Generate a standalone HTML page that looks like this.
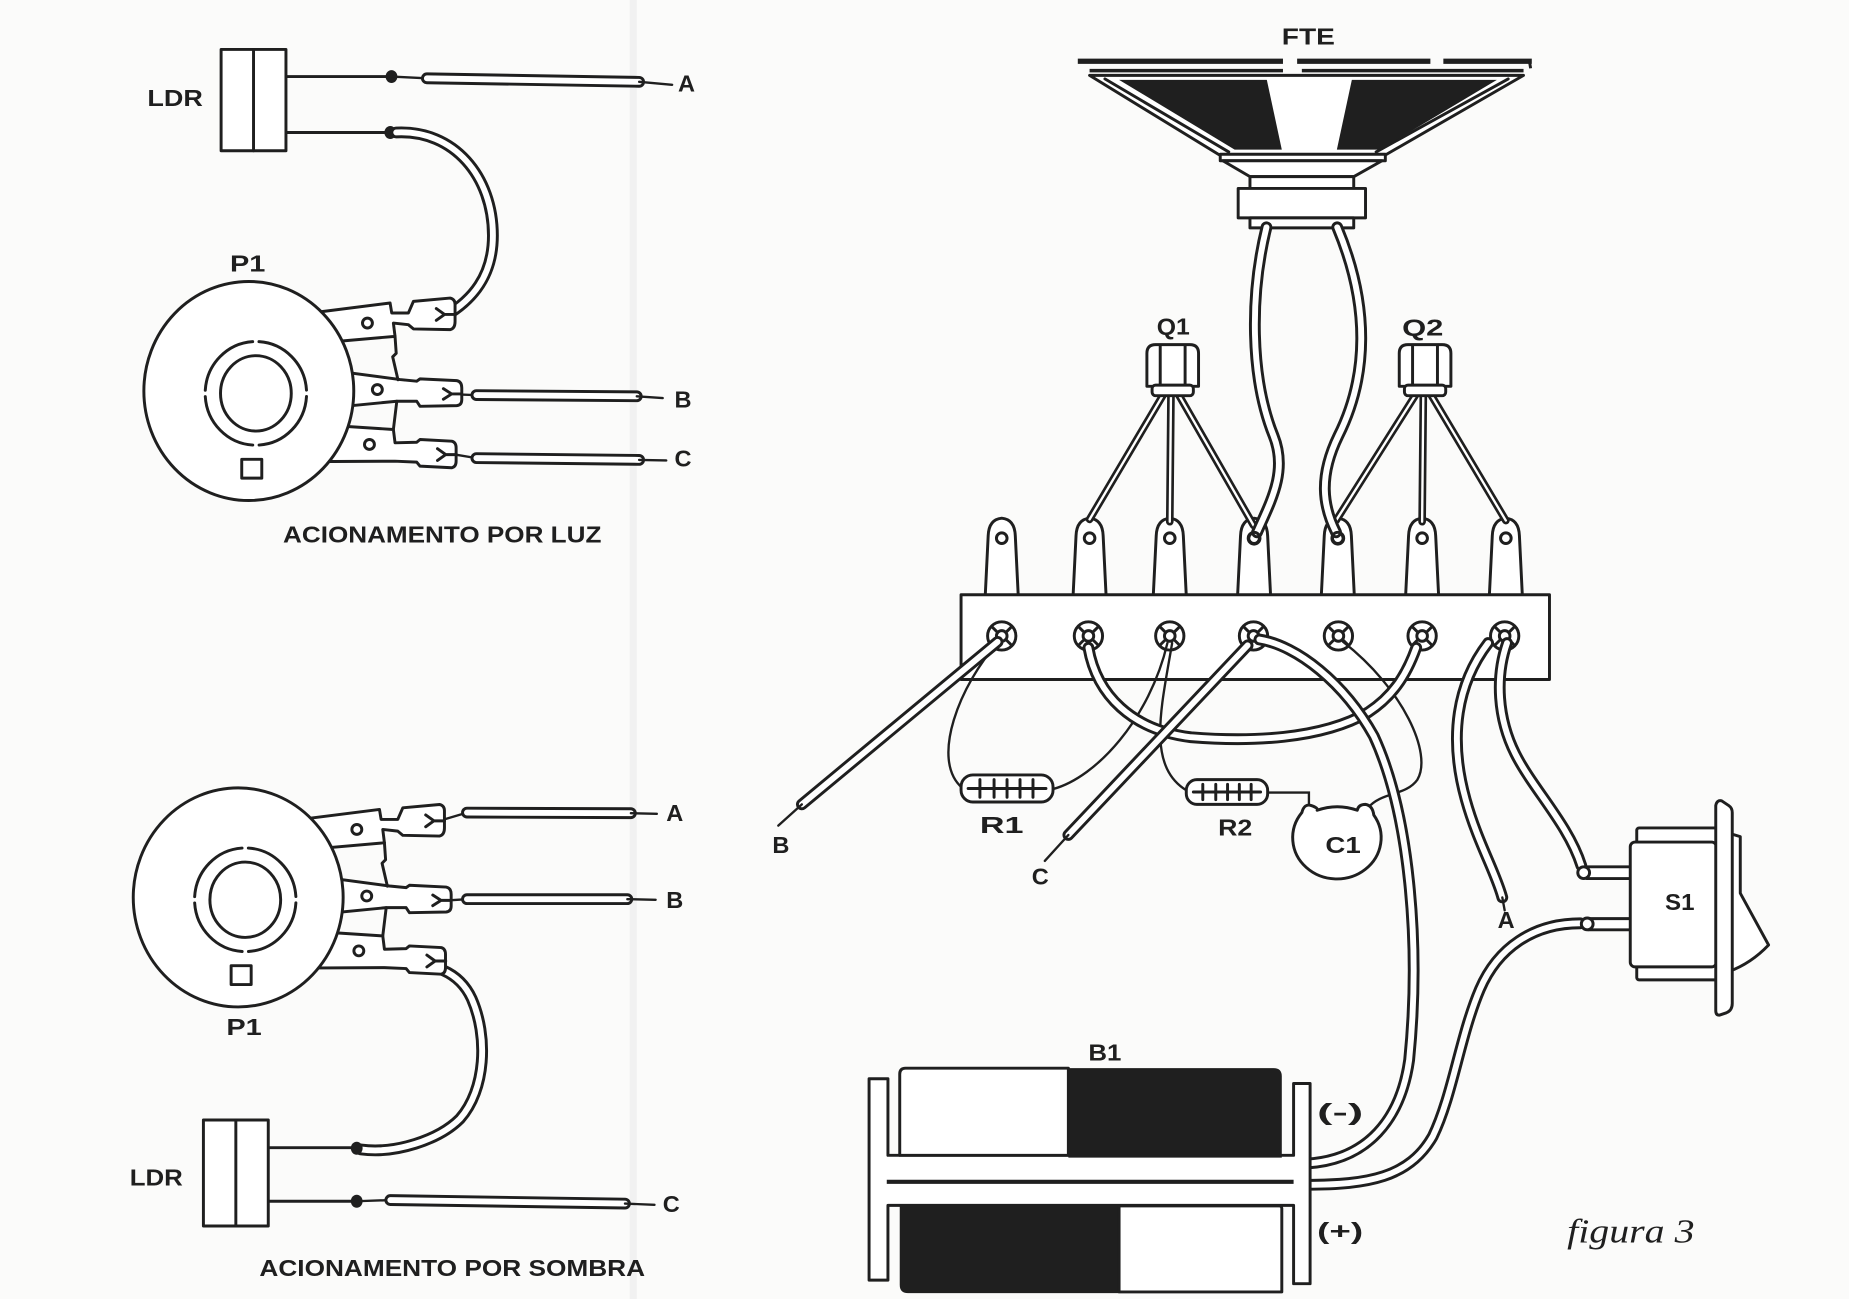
<!DOCTYPE html>
<html><head><meta charset="utf-8"><style>
html,body{margin:0;padding:0;background:#fbfbfa;}
svg{display:block}
.s{fill:none;stroke:#1f1f1f;stroke-width:2.5;stroke-linejoin:round;stroke-linecap:round}
.w{fill:#fff;stroke:#1f1f1f;stroke-width:2.5;stroke-linejoin:round}
.t{fill:none;stroke:#1f1f1f;stroke-width:2;stroke-linecap:round}
.to{fill:none;stroke:#1f1f1f;stroke-width:10;stroke-linecap:round;stroke-linejoin:round}
.ti{fill:none;stroke:#fff;stroke-width:5;stroke-linecap:round;stroke-linejoin:round}
.lo{fill:none;stroke:#1f1f1f;stroke-width:6.5;stroke-linecap:round}
.li{fill:none;stroke:#fff;stroke-width:2;stroke-linecap:round}
.k{fill:#1f1f1f}
text{font-family:"Liberation Sans",sans-serif;font-weight:bold;fill:#1f1f1f;font-size:20px}
.fig{font-family:"Liberation Serif",serif;font-style:italic;font-weight:normal;font-size:29px}
</style></head><body>
<svg width="1849" height="1299" viewBox="0 0 1568 1103" preserveAspectRatio="none" xmlns="http://www.w3.org/2000/svg">
<defs>
<g id="pot">
 <path class="w" d="M262 266 L330.8 257.3 L332.2 265.8 L346.3 265.8 L350.6 255.9 L381.7 253.1 Q386 254 385.9 258.7 L385.9 272.8 Q386 279 381.7 279.9 L350.6 279.3 L346.3 275.7 L333.6 274.3 L335 285.6 L262 292 Z"/>
 <path class="w" d="M262 312 L339.3 322.3 L353.4 323.7 L356.2 321.7 L387.3 323.2 Q391.6 324 391.6 329.4 L391.6 339.3 Q391.6 344 387.3 344.4 L356.2 345 L353.4 340.7 L336.5 340.7 L262 348 Z"/>
 <path class="w" d="M262 360 L333.6 364.7 L335 376 L353.4 375.5 L356.2 373.2 L383.1 374.6 Q386.8 375.5 386.8 380.3 L386.8 391.6 Q386.8 396.5 383.1 397.2 L356.2 395.8 L353.4 392.4 L335 391.6 L262 392 Z"/>
 <path class="s" d="M335 285.6 L336 300 L333 303 L337.5 322.5 M336.5 340.7 L333.6 364.7"/>
 <path class="s" d="M370 262 L377 267 L370 272 M377 267 L386 267"/>
 <path class="s" d="M376 330 L383 334.5 L376 339 M383 334.5 L391 334.5"/>
 <path class="s" d="M371 381 L378 386 L371 391 M378 386 L387 386"/>
 <ellipse class="w" cx="211" cy="332" rx="89" ry="93"/>
 <ellipse class="s" cx="217" cy="334" rx="43" ry="44" pathLength="100" stroke-dasharray="23 2" stroke-dashoffset="24"/>
 <ellipse class="s" cx="217" cy="334" rx="30" ry="32"/>
 <rect class="s" x="205" y="390" width="17" height="16"/>
 <circle class="s" cx="311.6" cy="274.3" r="4.2"/>
 <circle class="s" cx="320" cy="330.8" r="4.2"/>
 <circle class="s" cx="313.3" cy="377.4" r="4.2"/>
</g>
</defs>

<!-- faint background column line -->
<path d="M537 0 V1103" stroke="#f1f1f1" stroke-width="6"/>

<!-- ============ TOP LEFT: ACIONAMENTO POR LUZ ============ -->
<path class="s" d="M242.5 65 H330" stroke-width="4"/>
<ellipse class="k" cx="332" cy="65" rx="5" ry="5.5"/>
<path class="t" d="M332 65 L362 66.5"/>
<path class="to" d="M362 66.5 L542 69.5"/><path class="ti" d="M362 66.5 L542 69.5"/>
<path class="t" d="M542 69.5 L570 72" stroke-width="2.5"/>
<path class="s" d="M242.5 112.5 H330" stroke-width="4"/>
<ellipse class="k" cx="331" cy="112.5" rx="5" ry="5.5"/>
<path class="to" d="M336 112.5 C385 110 418 150 418 200 C418 235 400 255 378 268"/>
<path class="ti" d="M336 112.5 C385 110 418 150 418 200 C418 235 400 255 378 268"/>
<rect class="w" x="187.5" y="42" width="55" height="86"/>
<path class="s" d="M215 42 V128"/>
<text x="125" y="90" textLength="47" lengthAdjust="spacingAndGlyphs">LDR</text>
<text x="575" y="77.5">A</text>

<use href="#pot"/>
<text x="195" y="230.5" textLength="30" lengthAdjust="spacingAndGlyphs">P1</text>
<path class="t" d="M391 335 L404 335.5"/>
<path class="to" d="M404 335.5 L540 336.5"/><path class="ti" d="M404 335.5 L540 336.5"/>
<path class="t" d="M540 336.5 L562 338" stroke-width="2.5"/>
<text x="572" y="346">B</text>
<path class="t" d="M386 386 L404 389"/>
<path class="to" d="M404 389 L542 390.5"/><path class="ti" d="M404 389 L542 390.5"/>
<path class="t" d="M542 390.5 L565 391" stroke-width="2.5"/>
<text x="572" y="396">C</text>
<text x="240" y="460.5" textLength="270" lengthAdjust="spacingAndGlyphs">ACIONAMENTO POR LUZ</text>

<!-- ============ BOTTOM LEFT: ACIONAMENTO POR SOMBRA ============ -->
<path class="t" d="M376 696 L396 690"/>
<path class="to" d="M396 690 L535 690.5"/><path class="ti" d="M396 690 L535 690.5"/>
<path class="t" d="M535 690.5 L557 691" stroke-width="2.5"/>
<text x="565" y="697">A</text>
<path class="t" d="M381 764.5 L396 763.5"/>
<path class="to" d="M396 763.5 L532 763.5"/><path class="ti" d="M396 763.5 L532 763.5"/>
<path class="t" d="M532 763.5 L556 764" stroke-width="2.5"/>
<text x="565" y="771">B</text>
<path class="to" d="M306 976 C335 980 372 968 390 950 C412 925 414 880 400 848 C394 835 385 828 376 824"/>
<path class="ti" d="M306 976 C335 980 372 968 390 950 C412 925 414 880 400 848 C394 835 385 828 376 824"/>
<use href="#pot" transform="translate(-9,430)"/>
<text x="192" y="879" textLength="30" lengthAdjust="spacingAndGlyphs">P1</text>
<path class="s" d="M227.5 974.5 H300" stroke-width="4"/>
<ellipse class="k" cx="302.5" cy="975" rx="5" ry="5.5"/>
<path class="s" d="M227.5 1020 H300" stroke-width="4"/>
<ellipse class="k" cx="302.5" cy="1020" rx="5" ry="5.5"/>
<path class="t" d="M302 1020 L331 1019"/>
<path class="to" d="M331 1019 L530 1022"/><path class="ti" d="M331 1019 L530 1022"/>
<path class="t" d="M530 1022 L555 1023" stroke-width="2.5"/>
<rect class="w" x="172.5" y="951" width="55" height="90"/>
<path class="s" d="M200 951 V1041"/>
<text x="110" y="1006.5" textLength="45" lengthAdjust="spacingAndGlyphs">LDR</text>
<text x="562" y="1029">C</text>
<text x="220" y="1083.5" textLength="327" lengthAdjust="spacingAndGlyphs" font-size="21">ACIONAMENTO POR SOMBRA</text>

<!-- ============ SPEAKER ============ -->
<text x="1087" y="38" textLength="45" lengthAdjust="spacingAndGlyphs">FTE</text>
<path d="M914 52 H1299" stroke="#1f1f1f" stroke-width="4.5" stroke-dasharray="174 12 113 11 200"/>
<path d="M1297 52 L1298 58" stroke="#1f1f1f" stroke-width="2.5"/>
<path d="M924 60 H1292" stroke="#1f1f1f" stroke-width="3" stroke-dasharray="164 16 400"/>
<path class="w" d="M924 64 L1292 64 L1175 131.5 L1034 131.5 Z"/>
<path class="s" d="M937 67 L1042 129 M1279 67 L1167 129"/>
<path class="k" d="M949 67.8 L1074.3 67.8 L1087 127 L1047 127 Z"/>
<path class="k" d="M1146.4 67.8 L1269.4 67.8 L1170.5 127 L1133.7 127 Z"/>
<rect class="w" x="1034.8" y="131" width="140" height="5.5"/>
<path class="w" d="M1037 136.5 L1172 136.5 L1148 150 L1060 150 Z"/>
<rect class="w" x="1060" y="150" width="88" height="10"/>
<rect class="w" x="1050" y="160" width="108" height="25"/>
<rect class="w" x="1060" y="185" width="88" height="8.5"/>

<!-- ============ TERMINAL STRIP ============ -->
<g>
 <path class="w" d="M835.5 506 L838 455 Q838.5 441 849.5 440 Q860.5 441 861 455 L863.5 506"/>
 <circle class="s" cx="849.5" cy="457" r="4.5"/>
 <path class="w" d="M910 506 L912.5 455 Q913 441 924 440 Q935 441 935.5 455 L938 506"/>
 <circle class="s" cx="924" cy="457" r="4.5"/>
 <path class="w" d="M978 506 L980.5 455 Q981 441 992 440 Q1003 441 1003.5 455 L1006 506"/>
 <circle class="s" cx="992" cy="457" r="4.5"/>
 <path class="w" d="M1049.5 506 L1052 455 Q1052.5 441 1063.5 440 Q1074.5 441 1075 455 L1077.5 506"/>
 <circle class="s" cx="1063.5" cy="457" r="4.5"/>
 <path class="w" d="M1120.5 506 L1123 455 Q1123.5 441 1134.5 440 Q1145.5 441 1146 455 L1148.5 506"/>
 <circle class="s" cx="1134.5" cy="457" r="4.5"/>
 <path class="w" d="M1192 506 L1194.5 455 Q1195 441 1206 440 Q1217 441 1217.5 455 L1220 506"/>
 <circle class="s" cx="1206" cy="457" r="4.5"/>
 <path class="w" d="M1263 506 L1265.5 455 Q1266 441 1277 440 Q1288 441 1288.5 455 L1291 506"/>
 <circle class="s" cx="1277" cy="457" r="4.5"/>
</g>

<!-- transistor legs -->
<path class="lo" d="M986 336 L924 441 M993 336 L992 443 M1000 336 L1063 446"/>
<path class="li" d="M986 336 L924 441 M993 336 L992 443 M1000 336 L1063 446"/>
<path class="lo" d="M1200 336 L1133 442 M1207 336 L1206 443 M1214 336 L1277 442"/>
<path class="li" d="M1200 336 L1133 442 M1207 336 L1206 443 M1214 336 L1277 442"/>
<!-- Q1 -->
<path class="w" d="M972.6 328 V300 Q972.6 292.6 980 292.6 H1009 Q1016.4 292.6 1016.4 300 V328 Z"/>
<path class="s" d="M983.9 293 V327 M1005 293 V327"/>
<rect class="w" x="977" y="327" width="35" height="9" rx="3"/>
<text x="981" y="284" textLength="28" lengthAdjust="spacingAndGlyphs">Q1</text>
<!-- Q2 -->
<path class="w" d="M1186.6 328 V300 Q1186.6 292.6 1194 292.6 H1223 Q1230.4 292.6 1230.4 300 V328 Z"/>
<path class="s" d="M1197.9 293 V327 M1219 293 V327"/>
<rect class="w" x="1191" y="327" width="35" height="9" rx="3"/>
<text x="1189" y="285" textLength="35" lengthAdjust="spacingAndGlyphs">Q2</text>

<!-- speaker wires -->
<path class="to" d="M1074 193 C1060 250 1060 320 1080 370 C1092 400 1078 425 1066 452" stroke-width="11"/>
<path class="ti" d="M1074 193 C1060 250 1060 320 1080 370 C1092 400 1078 425 1066 452" stroke-width="6"/>
<path class="to" d="M1134 193 C1162 260 1160 320 1135 370 C1118 405 1122 430 1133 452" stroke-width="11"/>
<path class="ti" d="M1134 193 C1162 260 1160 320 1135 370 C1118 405 1122 430 1133 452" stroke-width="6"/>
<circle class="s" cx="1063.5" cy="457" r="5" stroke-width="3"/>
<circle class="s" cx="1134.5" cy="457" r="5" stroke-width="3"/>

<!-- strip body -->
<rect class="w" x="815" y="505" width="499" height="72"/>
<g>
 <circle class="w" cx="849.5" cy="540" r="12"/><circle class="s" cx="849.5" cy="540" r="4.5"/>
 <path class="s" d="M841 532 L846 537 M858 532 L853 537 M841 548 L846 543 M858 548 L853 543"/>
 <circle class="w" cx="923" cy="540" r="12"/><circle class="s" cx="923" cy="540" r="4.5"/>
 <path class="s" d="M914.5 532 L919.5 537 M931.5 532 L926.5 537 M914.5 548 L919.5 543 M931.5 548 L926.5 543"/>
 <circle class="w" cx="992" cy="540" r="12"/><circle class="s" cx="992" cy="540" r="4.5"/>
 <path class="s" d="M983.5 532 L988.5 537 M1000.5 532 L995.5 537 M983.5 548 L988.5 543 M1000.5 548 L995.5 543"/>
 <circle class="w" cx="1063" cy="540" r="12"/><circle class="s" cx="1063" cy="540" r="4.5"/>
 <path class="s" d="M1054.5 532 L1059.5 537 M1071.5 532 L1066.5 537 M1054.5 548 L1059.5 543 M1071.5 548 L1066.5 543"/>
 <circle class="w" cx="1135" cy="540" r="12"/><circle class="s" cx="1135" cy="540" r="4.5"/>
 <path class="s" d="M1126.5 532 L1131.5 537 M1143.5 532 L1138.5 537 M1126.5 548 L1131.5 543 M1143.5 548 L1138.5 543"/>
 <circle class="w" cx="1206" cy="540" r="12"/><circle class="s" cx="1206" cy="540" r="4.5"/>
 <path class="s" d="M1197.5 532 L1202.5 537 M1214.5 532 L1209.5 537 M1197.5 548 L1202.5 543 M1214.5 548 L1209.5 543"/>
 <circle class="w" cx="1276" cy="540" r="12"/><circle class="s" cx="1276" cy="540" r="4.5"/>
 <path class="s" d="M1267.5 532 L1272.5 537 M1284.5 532 L1279.5 537 M1267.5 548 L1272.5 543 M1284.5 548 L1279.5 543"/>
</g>

<!-- thin wires -->
<path class="t" d="M846 546 C815 580 788 645 816 669"/>
<path class="t" d="M893 670 C930 660 975 610 990 546"/>
<path class="t" d="M994 546 C985 600 972 650 1006 671"/>
<path class="t" d="M1075 673 H1110 V686"/>
<path class="t" d="M1139 545 C1190 585 1215 640 1202 662 C1192 676 1172 672 1160 686"/>

<!-- R1 -->
<rect class="w" x="815" y="658" width="78" height="23" rx="10"/>
<path class="s" d="M821 669.5 H887"/>
<path class="s" d="M831 662 V677 M843 662 V677 M854 662 V677 M865 662 V677 M876 662 V677" stroke-width="3.5"/>
<text x="831" y="707.5" textLength="37" lengthAdjust="spacingAndGlyphs">R1</text>
<!-- R2 -->
<rect class="w" x="1006" y="662" width="69" height="21" rx="9"/>
<path class="s" d="M1012 672.5 H1069"/>
<path class="s" d="M1020 666 V679 M1031 666 V679 M1041 666 V679 M1051 666 V679 M1061 666 V679" stroke-width="3.5"/>
<text x="1033" y="709.5" textLength="29" lengthAdjust="spacingAndGlyphs">R2</text>
<!-- C1 -->
<path class="w" d="M1104 690 Q1106 682 1112 684 Q1118 686 1117 688 Q1134 682 1151 688 Q1152 683 1158 683 Q1164 684 1165 692 A37.5 35 0 1 1 1104 690 Z"/>
<text x="1124" y="724.5" textLength="30" lengthAdjust="spacingAndGlyphs">C1</text>

<!-- U tube eyelet 2 -> 6 -->
<path class="to" d="M923 550 C930 590 960 620 1010 626 C1060 630 1120 628 1160 605 C1180 592 1192 575 1201 550"/>
<path class="ti" d="M923 550 C930 590 960 620 1010 626 C1060 630 1120 628 1160 605 C1180 592 1192 575 1201 550"/>
<!-- B wire -->
<path class="to" d="M846 545 L680 683"/><path class="ti" d="M846 545 L680 683"/>
<path class="t" d="M680 683 L660 701" stroke-width="2.5"/>
<text x="655" y="724.5">B</text>
<!-- C wire -->
<path class="to" d="M1058 548 L906 709"/><path class="ti" d="M1058 548 L906 709"/>
<path class="t" d="M906 709 L886 731" stroke-width="2.5"/>
<text x="875" y="751">C</text>
<!-- long wire eyelet 4 -> battery -->
<path class="to" d="M1068 543 C1100 548 1140 580 1165 625 C1195 690 1205 800 1195 900 C1188 950 1160 985 1108 988"/>
<path class="ti" d="M1068 543 C1100 548 1140 580 1165 625 C1195 690 1205 800 1195 900 C1188 950 1160 985 1108 988"/>
<!-- A wire -->
<path class="to" d="M1262 546 C1236 580 1228 625 1243 679 C1253 715 1268 740 1274 762"/>
<path class="ti" d="M1262 546 C1236 580 1228 625 1243 679 C1253 715 1268 740 1274 762"/>
<path class="t" d="M1274 762 L1276 773" stroke-width="2.5"/>
<text x="1270" y="788">A</text>
<!-- S1 top wire -->
<path class="to" d="M1278 546 C1268 575 1270 610 1285 640 C1300 670 1330 700 1341 735"/>
<path class="ti" d="M1278 546 C1268 575 1270 610 1285 640 C1300 670 1330 700 1341 735"/>
<!-- S1 bottom wire to battery -->
<path class="to" d="M1340 784 C1300 784 1270 805 1255 840 C1238 880 1232 930 1215 965 C1195 1000 1160 1006 1108 1006"/>
<path class="ti" d="M1340 784 C1300 784 1270 805 1255 840 C1238 880 1232 930 1215 965 C1195 1000 1160 1006 1108 1006"/>

<!-- ============ S1 ============ -->
<rect class="w" x="1345.5" y="736" width="38" height="10"/>
<circle class="w" cx="1343" cy="741" r="5"/>
<rect class="w" x="1347" y="780" width="37" height="9.5"/>
<circle class="w" cx="1346" cy="784.5" r="5"/>
<rect class="w" x="1388" y="703" width="68" height="14" rx="2"/>
<rect class="w" x="1388" y="820" width="68" height="12" rx="2"/>
<rect class="w" x="1382.5" y="715" width="73" height="106" rx="4"/>
<path class="w" d="M1466 707.5 L1475.8 710.4 L1475.8 758.4 L1499.8 802.4 Q1485 818 1466 825 Z"/>
<path class="w" d="M1455 684 Q1456 679 1460 680 L1466 684 Q1469 686 1469 690 L1469 852 Q1469 858 1464 860 L1458 862 Q1455 862 1455 858 Z"/>
<text x="1412" y="772.5" textLength="25" lengthAdjust="spacingAndGlyphs">S1</text>

<!-- ============ BATTERY ============ -->
<text x="923" y="900.5" textLength="28" lengthAdjust="spacingAndGlyphs">B1</text>
<path class="w" d="M737 916 H753 V981 H1097 V920 H1111 V1090 H1097 V1023.5 H753 V1087 H737 Z"/>
<path d="M752 1003.5 H1097" stroke="#1f1f1f" stroke-width="3.5"/>
<path class="w" d="M906 907 H768 Q763 907 763 912 V981 H906 Z"/>
<path class="k" d="M906 907 H1080 Q1087 907 1087 914 V983 H906 Z"/>
<path class="k" d="M763 1024 H949 V1098 H770 Q763 1098 763 1091 Z"/>
<path class="w" d="M949 1024 H1085 Q1087 1024 1087 1026 V1097 H949 Z"/>
<text x="1117" y="951" textLength="39" lengthAdjust="spacingAndGlyphs">(-)</text>
<text x="1117" y="1052" textLength="39" lengthAdjust="spacingAndGlyphs">(+)</text>

<text class="fig" x="1329" y="1055" textLength="108" lengthAdjust="spacingAndGlyphs">figura 3</text>
</svg>
</body></html>
